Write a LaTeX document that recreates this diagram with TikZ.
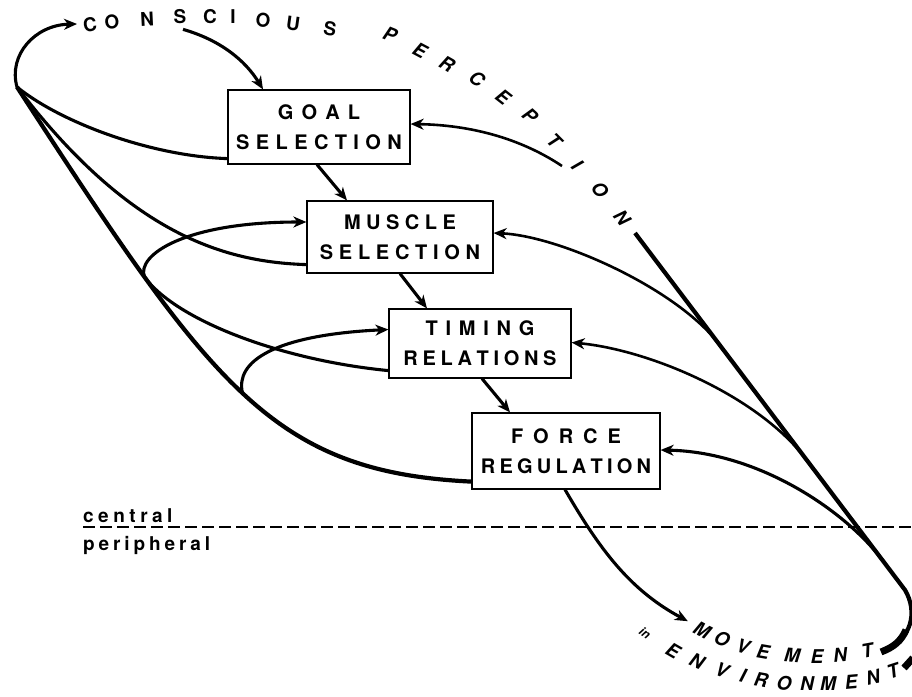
\documentclass[tikz,border=0pt]{standalone}
\usepackage{fontspec}
\setmainfont{TeX Gyre Heros}
\usetikzlibrary{arrows.meta,calc}
\ExplSyntaxOn
\NewDocumentCommand{\spaced}{mm}
 {
  \bool_set_true:N \l_tmpa_bool
  \tl_map_inline:nn {#2}
   {
    \bool_if:NTF \l_tmpa_bool
     { \bool_set_false:N \l_tmpa_bool }
     { \hspace{#1} }
    ##1
   }
 }
\ExplSyntaxOff
\begin{document}
\begin{tikzpicture}[x=1pt,y=-1pt,
  box/.style={draw, line width=1.2pt, inner sep=0pt, align=center,
    font=\fontsize{20}{30}\selectfont\bfseries},
  lt/.style={inner sep=0pt, font=\fontsize{19}{19}\selectfont\bfseries},
  ltit/.style={inner sep=0pt, font=\fontsize{19}{19}\selectfont\bfseries\itshape},
  mvlt/.style={inner sep=0pt, font=\fontsize{19}{19}\selectfont\bfseries\itshape},
  smalllt/.style={inner sep=0pt, font=\fontsize{12}{12}\selectfont\bfseries\itshape},
  lbl/.style={inner sep=0pt, font=\fontsize{19}{19}\selectfont\bfseries},
  arr/.style={-{Stealth[length=13pt,width=11pt,inset=4pt]}},
  heavy/.style={line width=4.2pt},
  mid/.style={line width=3.1pt},
  thin/.style={line width=2.6pt},
  divider/.style={line width=1.7pt, dash pattern=on 12pt off 5pt}
]
\useasboundingbox (0,0) rectangle (912,696);

% boxes
\node[box, minimum width=182pt, minimum height=74pt] (goal) at (319,127)
  {\spaced{8.1pt}{GOAL}\\\spaced{6.4pt}{SELECTION}};
\node[box, minimum width=186pt, minimum height=72pt] (muscle) at (400,237)
  {\spaced{5.5pt}{MUSCLE}\\\spaced{5.7pt}{SELECTION}};
\node[box, minimum width=182pt, minimum height=69pt] (timing) at (480,343.5)
  {\spaced{7.8pt}{TIMING}\\\spaced{4.7pt}{RELATIONS}};
\node[box, minimum width=188pt, minimum height=76pt] (force) at (566,451)
  {\spaced{10pt}{FORCE}\\\spaced{4.2pt}{REGULATION}};

% CONSCIOUS PERCEPTION
\foreach \ch/\px/\py/\r [count=\i] in {
  C/90/25/8, O/112/22/5, N/147/19/3, S/180/17/0, C/210/17/0, I/233/17/0,
  O/263/20/-5, U/293/24/-8, S/330/29/-10}
  \node[lt, rotate=\r] (cp\i) at (\px,\py) {\ch};
\foreach \ch/\px/\py/\r [count=\i] in {
  P/390/34/-22, E/420/50/-28, R/447/64/-30, C/477/79/-35, E/503/97/-38,
  P/530/116/-42, T/554/141/-45, I/577/165/-48, O/600/190/-50, N/622/218/-52}
  \node[ltit, rotate=\r] (pc\i) at (\px,\py) {\ch};

% MOVEMENT in ENVIRONMENT
\foreach \ch/\px/\py/\r [count=\i] in {
  M/702/630/-28, O/722/639/-22, V/743/646/-15, E/763/652/-10,
  M/792/655/-5, E/817/657/0, N/840/655/5, T/867/651/10}
  \node[mvlt, rotate=\r] (mv\i) at (\px,\py) {\ch};
\node[smalllt, rotate=-35] (in) at (645,633) {in};
\foreach \ch/\px/\py/\r [count=\i] in {
  E/673/651/-30, N/697/661/-25, V/722/670/-20, I/743/675/-15, R/761/680/-10,
  O/784/683/-5, N/807/684/0, M/828/684/0, E/851/682/5, N/873/677/12, T/893/671/18}
  \node[mvlt, rotate=\r] (en\i) at (\px,\py) {\ch};

% central / peripheral
\node[lbl, anchor=base west] (central) at (83,522) {\spaced{4.5pt}{central}};
\node[lbl, anchor=base west] (peripheral) at (83,550) {\spaced{3.9pt}{peripheral}};
\draw[divider] (central.base west |- 0,527) -- (912,527);

% downward chain
\draw[arr, mid] ([xshift=3pt,yshift=-5pt]cp4.south) .. controls (220,40) and (245,60) .. ([xshift=-56pt]goal.north);
\draw[arr, mid] ([xshift=-2pt]goal.south) -- ([xshift=-53pt]muscle.north);
\draw[arr, mid] (muscle.south) -- ([xshift=-53pt]timing.north);
\draw[arr, mid] ([xshift=2pt]timing.south) -- ([xshift=-56pt]force.north);
\draw[arr, mid] ([xshift=-1pt]force.south) .. controls (600,550) and (630,590) .. ([shift={(-7pt,5pt)}]mv1.west);

% left side
\coordinate (lpt) at (17,87);
\draw[arr, mid] ([yshift=6pt]goal.south west) .. controls (150,156) and (60,122) .. (lpt)
   .. controls (8,55) and (35,25) .. ([xshift=-6pt,yshift=2pt]cp1.west);
\draw[mid] ([yshift=9pt]muscle.south west) .. controls (225,262) and (130,235) .. (lpt);
\draw[heavy] (lpt) .. controls (212,387) and (272,472) .. coordinate[pos=0.255] (bl1) coordinate[pos=0.5] (bl2)
   ([yshift=8pt]force.south west);
\draw[arr, mid] ([yshift=8pt]timing.south west) .. controls (280,360) and (176,320) .. (bl1)
   .. controls +(-8,-22) and (185,222) .. ([yshift=15pt]muscle.west);
\draw[arr, mid] (bl2) .. controls +(-8,-32) and (275,335) .. ([yshift=14pt]timing.west);

% right side
\coordinate (rtop) at (635,233);
\coordinate (rbend) at (905,590);
\coordinate (rend) at (883,650);
\draw[heavy] (rtop) -- coordinate[pos=0.314] (r1) coordinate[pos=0.636] (r2) coordinate[pos=0.916] (r3) (rbend)
   .. controls (918,612) and (912,640) .. (rend);
\draw[line width=7pt] (906,630) .. controls (901,641) and (894,647) .. (881,652);
\draw[line width=7pt] (904,668) -- (913,658);
\coordinate (gfb) at (562,166);
\draw[arr, thin] (gfb) .. controls (520,138) and (470,125) .. ([yshift=3pt]goal.east);
\draw[arr, thin] (r1) .. controls +(-42,-56) and (560,236) .. ([yshift=4pt]muscle.east);
\draw[arr, thin] (r2) .. controls +(-48,-64) and (650,350) .. ([yshift=1pt]timing.east);
\draw[arr, mid] (r3) .. controls +(-36,-48) and (760,452) .. ([yshift=1pt]force.east);
\end{tikzpicture}
\end{document}
